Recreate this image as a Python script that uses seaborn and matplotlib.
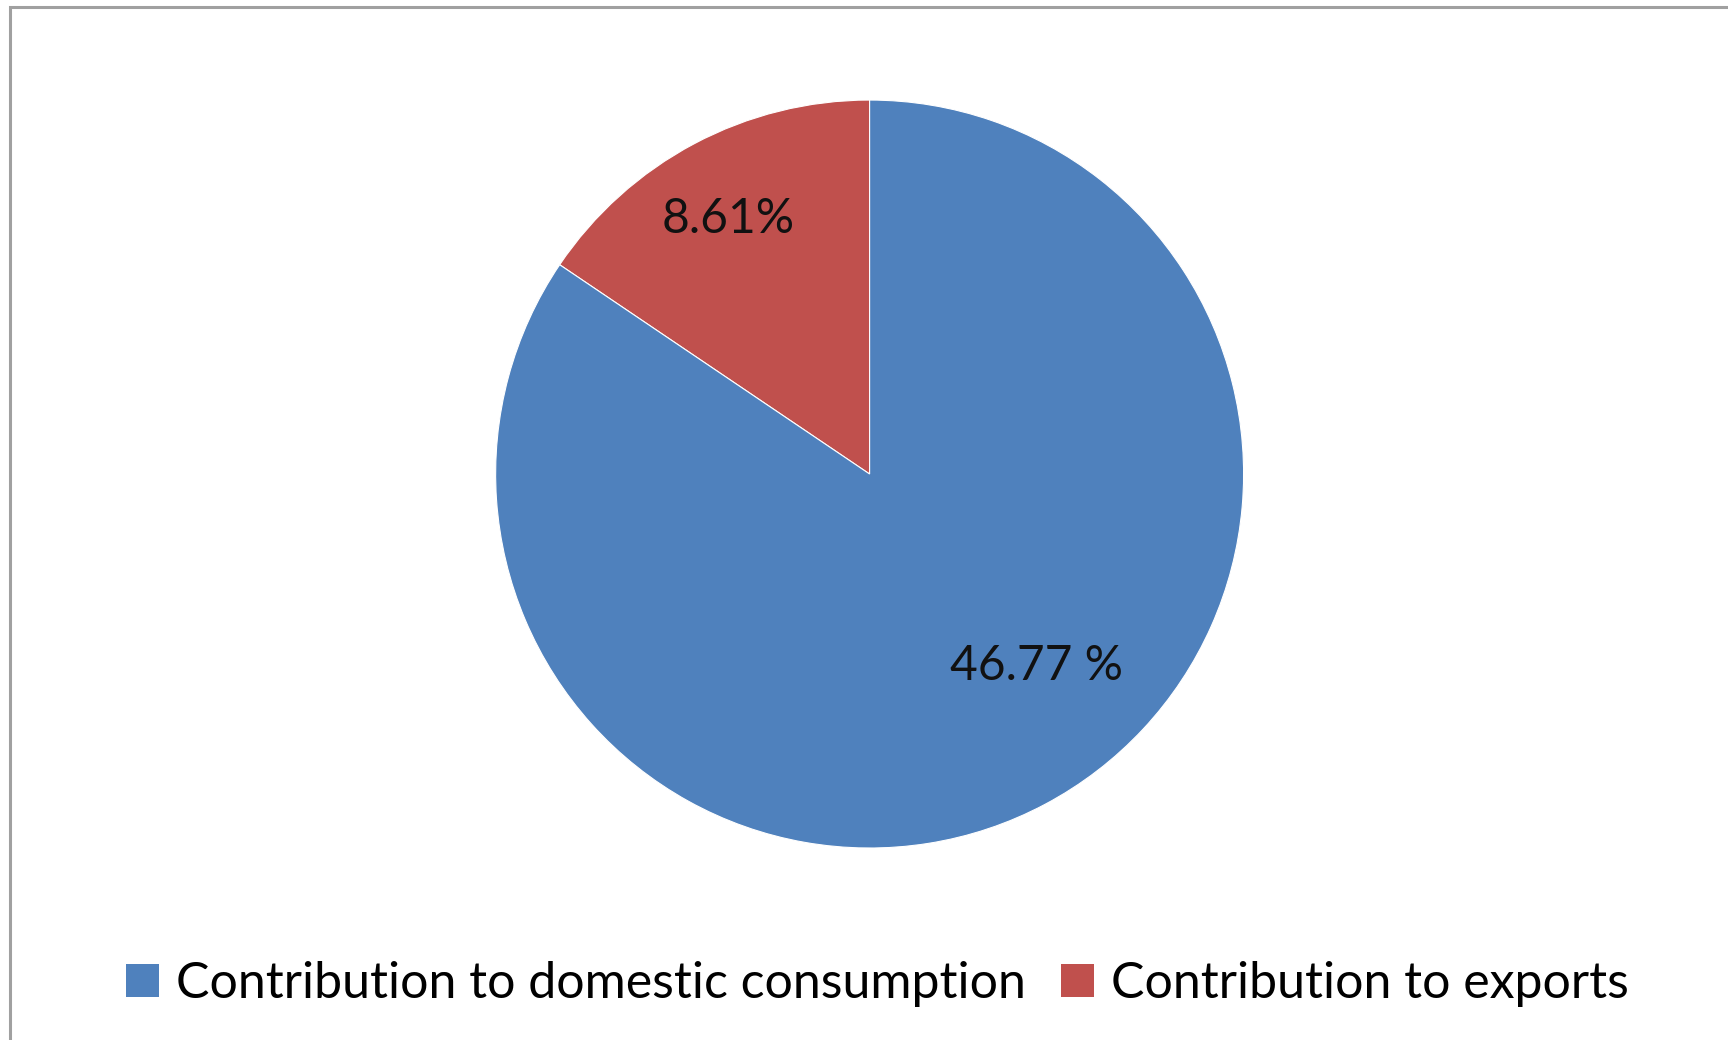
import matplotlib
matplotlib.use("Agg")
import matplotlib.pyplot as plt
import matplotlib.patches as mpatches
import seaborn as sns
import numpy as np

# data
labels = ['Contribution to domestic consumption', 'Contribution to exports']
values = [46.77, 8.61]
value_text = ['46.77 %', '8.61%']
colors = ['#4F81BD', '#C0504D']

sns.set_theme(style='white')
plt.rcParams['font.family'] = ['Lato', 'DejaVu Sans']

fig = plt.figure(figsize=(17.28, 10.4), dpi=100)
fig.patch.set_facecolor('white')

# outer frame like the spreadsheet chart area
fig.add_artist(mpatches.Rectangle((0.0058, -0.05), 1.1, 1.0433, transform=fig.transFigure,
                                  fill=False, edgecolor='#a0a0a0', linewidth=2.2))

ax = fig.add_axes([0.2868, 0.1846, 0.4329, 0.7192])

# exports first, counterclockwise from the top, then domestic
wedges, _ = ax.pie(values[::-1], colors=colors[::-1], startangle=90, counterclock=True,
                   radius=1, wedgeprops=dict(edgecolor='white', linewidth=0.8))
ax.set_xlim(-1, 1)
ax.set_ylim(-1, 1)
ax.set_aspect('equal')
ax.axis('off')

# label placement (angle in degrees, distance from centre)
label_pos = {'8.61%': (119, 0.78), '46.77 %': (311, 0.68)}
for t in value_text:
    ang, dist = label_pos[t]
    a = np.deg2rad(ang)
    ax.text(dist * np.cos(a), dist * np.sin(a), t, ha='center', va='center',
            fontsize=34.5, color='#111111')

handles = [mpatches.Patch(facecolor=c, edgecolor='none') for c in colors]
leg = fig.legend(handles, labels, loc='center', bbox_to_anchor=(0.508, 0.054), ncol=2,
                 frameon=False, fontsize=36, handlelength=0.65, handleheight=0.65,
                 handletextpad=0.35, columnspacing=0.7)
for txt in leg.get_texts():
    txt.set_color('black')

fig.savefig('out.png', dpi=100)
